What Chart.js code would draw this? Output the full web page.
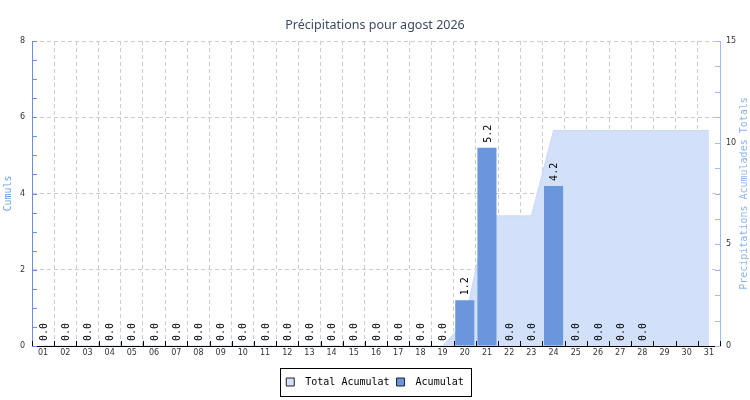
<!DOCTYPE html>
<html>
<head>
<meta charset="utf-8">
<script src="https://cdn.jsdelivr.net/npm/chart.js@4.4.1/dist/chart.umd.min.js"></script>
<style>
  html, body { margin: 0; padding: 0; background: #fff; }
</style>
</head>
<body>
<canvas id="chart" width="750" height="400"></canvas>
<script>
// ---- DATA ----
const DAYS = ['01','02','03','04','05','06','07','08','09','10','11','12','13','14','15','16',
              '17','18','19','20','21','22','23','24','25','26','27','28','29','30','31'];
const DAILY = [0,0,0,0,0,0,0,0,0,0,0,0,0,0,0,0,0,0,0, 1.2, 5.2, 0, 0, 4.2, 0,0,0,0, null,null,null];
const TOTAL = [0,0,0,0,0,0,0,0,0,0,0,0,0,0,0,0,0,0,0, 1.2, 6.4, 6.4, 6.4,
               10.6,10.6,10.6,10.6,10.6,10.6,10.6,10.6];
const LEFT_MAX = 8, LEFT_STEP = 0.5, LEFT_LABEL_EVERY = 2;
const RIGHT_MAX = 15, RIGHT_STEP = 1.25, RIGHT_LABEL_EVERY = 5;
const RIGHT_TITLE = 'Precipitations Acumulades Totals';

// ---- STYLE ----
const BAR_COLOR = '#6a96dc';
const AREA_COLOR = '#d2e0f9';
const LEFT_AXIS = '#6a8fdc';
const RIGHT_AXIS = '#9dbdf2';
const GRID = '#cccccc';
const MONO = '"DejaVu Sans Mono", monospace';
const SANS = '"DejaVu Sans", sans-serif';

// inward tick marks, like the original
const inwardTicks = {
  id: 'inwardTicks',
  afterDraw(chart) {
    const { ctx, chartArea: a, scales: { x, y, y2 } } = chart;
    ctx.save();
    ctx.lineWidth = 1;
    const seg = (x1, y1, x2, y2p) => { ctx.beginPath(); ctx.moveTo(x1, y1); ctx.lineTo(x2, y2p); ctx.stroke(); };
    ctx.strokeStyle = LEFT_AXIS;
    y.ticks.forEach(t => {
      const py = Math.round(y.getPixelForValue(t.value)) + 0.5;
      seg(a.left, py, a.left + 5, py);
    });
    ctx.strokeStyle = RIGHT_AXIS;
    y2.ticks.forEach(t => {
      const py = Math.round(y2.getPixelForValue(t.value)) + 0.5;
      seg(a.right - 5, py, a.right, py);
    });
    ctx.strokeStyle = '#000';
    for (let i = 0; i <= DAYS.length; i++) {
      const px = Math.round(x.getPixelForValue(i - 0.5)) + 0.5;
      seg(px, a.bottom, px, a.bottom - 5);
    }
    // right axis title reads bottom-to-top
    ctx.fillStyle = '#8ab4f0';
    ctx.font = '10px ' + MONO;
    ctx.textAlign = 'center';
    ctx.textBaseline = 'middle';
    ctx.translate(y2.right - 6, (a.top + a.bottom) / 2);
    ctx.rotate(-Math.PI / 2);
    ctx.fillText(RIGHT_TITLE, 0, 0);
    ctx.restore();
  }
};

// rotated value labels above bars
const valueLabels = {
  id: 'valueLabels',
  afterDatasetsDraw(chart) {
    const { ctx } = chart;
    const meta = chart.getDatasetMeta(1);
    ctx.save();
    ctx.font = '10px ' + MONO;
    ctx.fillStyle = '#000';
    ctx.textAlign = 'left';
    ctx.textBaseline = 'middle';
    meta.data.forEach((bar, i) => {
      const v = DAILY[i];
      if (v === null || isNaN(bar.y)) return;
      ctx.save();
      ctx.translate(bar.x + 1, bar.y - 5);
      ctx.rotate(-Math.PI / 2);
      ctx.fillText(v.toFixed(1), 0, 0);
      ctx.restore();
    });
    ctx.restore();
  }
};

// frame around the legend
const legendFrame = {
  id: 'legendFrame',
  afterDraw(chart) {
    const boxes = chart.legend && chart.legend.legendHitBoxes;
    if (!boxes || !boxes.length) return;
    const l = Math.min(...boxes.map(b => b.left)) - 6;
    const r = Math.max(...boxes.map(b => b.left + b.width)) + 8;
    const cy = boxes[0].top + boxes[0].height / 2;
    const { ctx } = chart;
    ctx.save();
    ctx.strokeStyle = '#000';
    ctx.lineWidth = 1;
    ctx.strokeRect(Math.round(l) + 0.5, Math.round(cy - 14) + 0.5, Math.round(r - l), 28);
    ctx.restore();
  }
};

const ctx = document.getElementById('chart').getContext('2d');
const chart = new Chart(ctx, {
  data: {
    labels: DAYS,
    datasets: [
      {
        type: 'line', label: 'Total Acumulat', data: TOTAL, yAxisID: 'y2', order: 1,
        fill: 'origin', backgroundColor: AREA_COLOR, borderColor: '#c8d9f7', borderWidth: 1,
        pointRadius: 0, tension: 0
      },
      {
        type: 'bar', label: 'Acumulat', data: DAILY, yAxisID: 'y', order: 0,
        backgroundColor: BAR_COLOR, borderWidth: 0,
        categoryPercentage: 1, barPercentage: 0.86
      }
    ]
  },
  options: {
    responsive: false,
    animation: false,
    layout: { padding: { top: 9, left: 0, right: 0, bottom: 3 } },
    scales: {
      x: {
        type: 'category', offset: true,
        grid: { offset: true, color: GRID, drawTicks: false, tickLength: 0 },
        border: { color: '#000', dash: [4, 3] },
        ticks: { font: { family: SANS, size: 8 }, color: '#333', padding: 2, autoSkip: false, maxRotation: 0 },
        afterFit: s => { s.height = 24; }
      },
      y: {
        type: 'linear', position: 'left', min: 0, max: LEFT_MAX,
        grid: {
          color: c => (c.tick && c.tick.value > 0 && c.tick.value % LEFT_LABEL_EVERY === 0) ? GRID : 'rgba(0,0,0,0)',
          drawTicks: false, tickLength: 0
        },
        border: { color: LEFT_AXIS, dash: [4, 3] },
        ticks: {
          stepSize: LEFT_STEP, autoSkip: false, padding: 7, color: '#333',
          font: { family: SANS, size: 8 },
          callback: v => (v % LEFT_LABEL_EVERY === 0 ? v : '')
        },
        title: { display: true, text: 'Cumuls', color: '#6a9fe8', font: { family: MONO, size: 10 }, padding: { top: 2, bottom: 0 } },
        afterFit: s => { s.width = 32; }
      },
      y2: {
        type: 'linear', position: 'right', min: 0, max: RIGHT_MAX,
        grid: { drawOnChartArea: false, drawTicks: false, tickLength: 0 },
        border: { color: RIGHT_AXIS },
        ticks: {
          stepSize: RIGHT_STEP, autoSkip: false, padding: 6, color: '#333',
          font: { family: SANS, size: 8 },
          callback: v => (v % RIGHT_LABEL_EVERY === 0 ? v : '')
        },
        afterFit: s => { s.width = 30; }
      }
    },
    plugins: {
      title: {
        display: true, text: 'Précipitations pour agost 2026', color: '#3d4a66',
        font: { family: '"Noto Sans", sans-serif', size: 12.5, weight: 'normal' },
        padding: { top: 9, bottom: 8 }
      },
      legend: {
        position: 'bottom',
        labels: {
          font: { family: MONO, size: 10 }, color: '#000',
          boxWidth: 8, boxHeight: 8, padding: 7,
          generateLabels: c => c.data.datasets.map((ds, i) => ({
            text: ' ' + ds.label, fillStyle: ds.backgroundColor, strokeStyle: '#222',
            lineWidth: 1, hidden: false, datasetIndex: i, fontColor: '#000'
          }))
        }
      },
      tooltip: { enabled: false }
    }
  },
  plugins: [valueLabels, inwardTicks, legendFrame]
});
</script>
</body>
</html>
